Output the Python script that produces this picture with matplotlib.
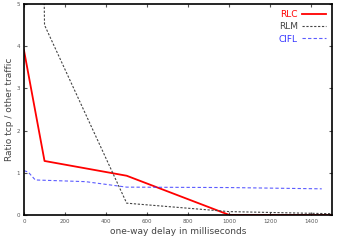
import matplotlib
matplotlib.use("Agg")
import matplotlib.pyplot as plt

# delay (ms) vs ratio tcp / other traffic
rlc_x = [0, 100, 500, 1000, 1500]
rlc_y = [3.9, 1.28, 0.93, 0.0, 0.0]

rlm_x = [90, 100, 500, 1000, 1500]
rlm_y = [8.0, 4.5, 0.28, 0.08, 0.03]

cifl_x = [0, 20, 55, 300, 500, 1000, 1450]
cifl_y = [1.05, 1.02, 0.83, 0.79, 0.66, 0.65, 0.62]

xticks = [0, 200, 400, 600, 800, 1000, 1200, 1400]
yticks = [0, 1, 2, 3, 4, 5]

fig = plt.figure(figsize=(3.37, 2.42), dpi=100)
ax = fig.add_axes([0.0712, 0.1116, 0.914, 0.872])

ax.plot(rlc_x, rlc_y, color="red", lw=1.3, label="RLC")
ax.plot(rlm_x, rlm_y, color="#444444", lw=0.8, ls=(0, (2, 1.5)), label="RLM")
ax.plot(cifl_x, cifl_y, color="#3333ff", lw=0.8, ls=(0, (3, 2)), label="CIFL", alpha=0.8)

ax.set_xlim(0, 1500)
ax.set_ylim(0, 5)
ax.set_xticks(xticks)
ax.set_yticks(yticks)
ax.tick_params(direction="in", top=True, right=True, labelsize=4, length=2.5, width=0.8, pad=3, colors="#555555")
for s in ax.spines.values():
    s.set_linewidth(1.2)
ax.set_xlabel("one-way delay in milliseconds", fontsize=6.5, color="#444444", labelpad=2)
ax.set_ylabel("Ratio tcp / other traffic", fontsize=6.5, color="#444444", labelpad=2)

leg = ax.legend(loc="upper right", frameon=False, markerfirst=False, fontsize=6.5,
                handlelength=2.6, handletextpad=0.5, labelspacing=0.35,
                borderaxespad=0.3, labelcolor=["red", "#444444", "#3333ff"])

fig.savefig("out.png", dpi=100)
